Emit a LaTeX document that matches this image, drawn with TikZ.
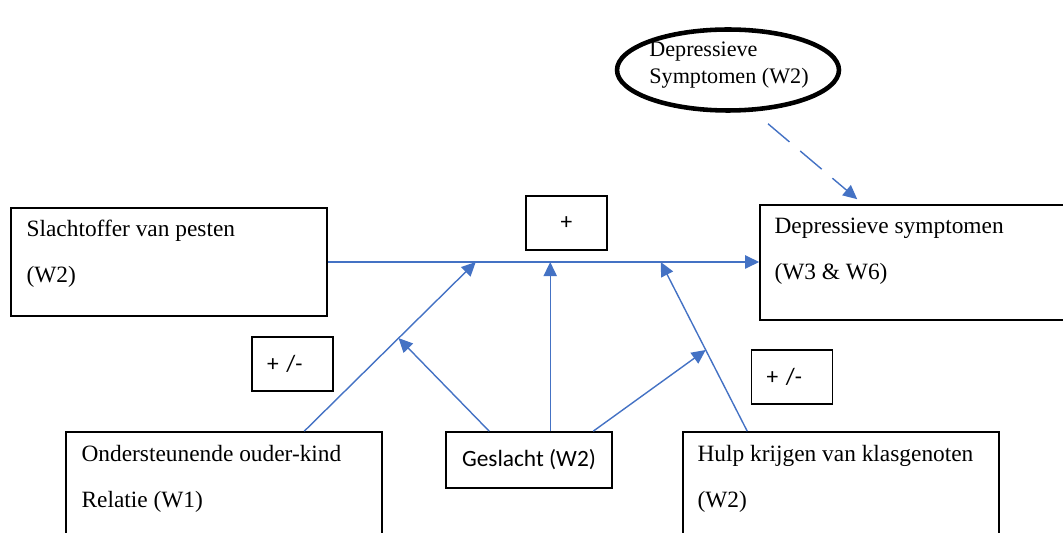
\documentclass[tikz,border=0pt]{standalone}
\usepackage{fontspec}
\setmainfont{Liberation Serif}
\newfontfamily\calfont{Carlito}
\usetikzlibrary{shapes.geometric,arrows.meta,calc}
\definecolor{pijlblauw}{HTML}{4472C4}

\tikzset{
  box/.style={draw,line width=0.9pt,inner sep=0pt},
  txt/.style={anchor=north west,align=left,inner sep=0pt,font=\fontsize{13.3}{26}\selectfont},
  teken/.style={box,minimum width=1.62cm,minimum height=1.08cm,inner xsep=0.3cm,
    text width=1.02cm,align=left,font=\calfont\fontsize{13.3}{16}\selectfont},
  pijl/.style={pijlblauw,line width=0.8pt,-{Triangle[length=8pt,width=7.5pt]}}
}
\newcommand{\kop}{\rule{0pt}{10pt}}

\begin{document}
\begin{tikzpicture}[x=0.02cm,y=-0.02cm]
\useasboundingbox (0,0) rectangle (1063,533);
\clip (0,0) rectangle (1063,533);

% boxes
\node[box,minimum width=6.32cm,minimum height=2.16cm] (slach) at (169,262) {};
\node[txt] (slachT) at ($(slach.north west)+(16,11.5)$) {\kop Slachtoffer van pesten\\(W2)};

\node[box,minimum width=6.32cm,minimum height=2.3cm] (dep) at (918,262.5) {};
\node[txt] (depT) at ($(dep.north west)+(15,11.5)$) {\kop Depressieve symptomen\\(W3 \& W6)};

\node[box,minimum width=6.32cm,minimum height=2.3cm] (ond) at (224,489.5) {};
\node[txt] (ondT) at ($(ond.north west)+(16,12.5)$) {\kop Ondersteunende ouder-kind\\Relatie (W1)};

\node[box,minimum width=6.32cm,minimum height=2.3cm] (hulp) at (841,489.5) {};
\node[txt] (hulpT) at ($(hulp.north west)+(15,12.5)$) {\kop Hulp krijgen van klasgenoten\\(W2)};

\node[box,minimum width=3.32cm,minimum height=1.12cm,font=\calfont\fontsize{13.3}{16}\selectfont] (gesl) at (529,460) {Geslacht (W2)};

% signs
\node[teken,align=center] (plus) at (566.5,223) {+};
\node[teken] (pmL) at (292.5,364) {+ /-};
\node[teken] (pmR) at (792,377) {+ /-};

% W2 symptoms
\node[draw,ellipse,line width=2.6pt,minimum width=4.44cm,minimum height=1.62cm,inner sep=0pt] (sym) at (728,70) {};
\node[align=left,inner sep=0pt,font=\fontsize{12.6}{15.3}\selectfont] (symT) at ($(sym.center)+(1,-5)$) {Depressieve\\Symptomen (W2)};

% points
\coordinate (m1) at ($(slach.east)+(148,0)$);
\coordinate (m3) at ($(slach.east)+(333,0)$);
\coordinate (o1) at ($(ond.north west)+(239,0)$);
\coordinate (g1) at ($(gesl.north west)+(44,0)$);
\coordinate (g2) at ($(gesl.north west)+(105,0)$);
\coordinate (g3) at ($(gesl.north west)+(148,0)$);
\coordinate (h1) at ($(hulp.north west)+(65,0)$);
\coordinate (m2) at (g2 |- slach.east);
\coordinate (x1) at ($(o1)!0.55!(m1)$);
\coordinate (x2) at ($(h1)!0.48!(m3)$);

% arrows
\draw[pijl] (slach.east) -- (dep.west |- slach.east);
\draw[pijl] (o1) -- (m1);
\draw[pijl] (g2) -- (m2);
\draw[pijl] (h1) -- (m3);
\draw[pijl] (g1) -- (x1);
\draw[pijl] (g3) -- (x2);
\draw[pijl,dash pattern=on 16pt off 8pt] ($(sym.south)+(40,11)$) -- ($(dep.north west)+(98,-5)$);
\end{tikzpicture}
\end{document}
